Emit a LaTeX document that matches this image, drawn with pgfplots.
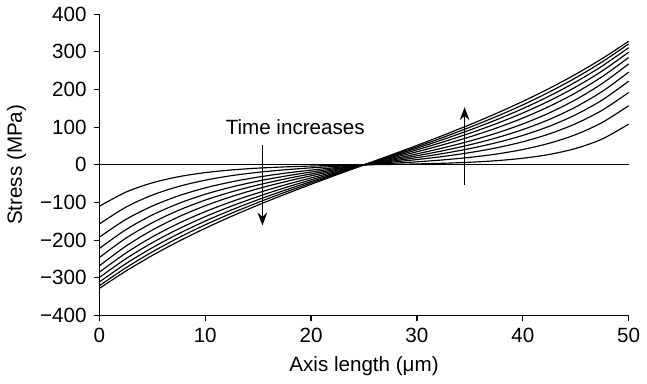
\documentclass[border=0pt]{standalone}
\usepackage{fontspec}
\setmainfont{Liberation Sans}
\usepackage{pgfplots}
\usepackage{pgfplotstable}
\pgfplotsset{compat=1.18}
\usetikzlibrary{arrows.meta}

\pgfplotstableread{
x c1 c2 c3 c4 c5 c6 c7 c8 c9 c10 c11
0 -110 -157 -192 -222 -246 -268 -285 -299 -311 -321 -328
2.5 -72.5 -112.4 -145.0 -172.1 -194.8 -215.9 -234.2 -249.3 -262.4 -273.4 -282.1
5 -47.8 -80.3 -109.3 -133.1 -153.7 -173.1 -191.3 -206.7 -220.0 -231.1 -240.6
7.5 -31.4 -57.3 -82.1 -102.4 -120.5 -137.8 -155.1 -169.8 -182.6 -193.3 -202.9
10 -20.6 -40.7 -61.2 -78.1 -93.6 -108.6 -124.2 -137.6 -149.3 -159.2 -168.4
12.5 -13.5 -28.6 -45.1 -58.8 -71.6 -84.1 -97.6 -109.3 -119.5 -128.3 -136.5
15 -8.7 -19.8 -32.5 -43.1 -53.3 -63.2 -74.3 -84.0 -92.5 -99.8 -106.7
17.5 -5.5 -13.2 -22.4 -30.2 -37.7 -45.2 -53.6 -61.0 -67.6 -73.2 -78.6
20 -3.2 -8.0 -14.0 -19.1 -24.1 -29.1 -34.7 -39.8 -44.2 -48.0 -51.7
22.5 -1.5 -3.8 -6.7 -9.3 -11.8 -14.2 -17.1 -19.6 -21.9 -23.8 -25.6
25 0 0 0 0 0 0 0 0 0 0 0
27.5 1.1 3.8 6.7 9.3 11.8 14.2 17.1 19.6 21.9 23.8 25.6
30 2.4 8.0 14.0 19.1 24.1 29.1 34.7 39.8 44.2 48.0 51.7
32.5 4.2 13.2 22.4 30.2 37.7 45.2 53.6 61.0 67.6 73.2 78.6
35 6.9 19.8 32.5 43.1 53.3 63.2 74.3 84.0 92.5 99.8 106.7
37.5 11.0 28.6 45.1 58.8 71.6 84.1 97.6 109.3 119.5 128.3 136.5
40 17.5 40.7 61.2 78.1 93.6 108.6 124.2 137.6 149.3 159.2 168.4
42.5 27.6 57.3 82.1 102.4 120.5 137.8 155.1 169.8 182.6 193.3 202.9
45 43.5 80.3 109.3 133.1 153.7 173.1 191.3 206.7 220.0 231.1 240.6
47.5 68.6 112.4 145.0 172.1 194.8 215.9 234.2 249.3 262.4 273.4 282.1
50 108 157 192 222 246 268 285 299 311 321 328
}\stressdata

\begin{document}
\fontsize{16}{19}\selectfont
\begin{tikzpicture}
\begin{axis}[
  scale only axis,
  width=411pt, height=234pt,
  xmin=0, xmax=50, ymin=-400, ymax=400,
  axis lines*=left,
  axis line style={line width=1pt},
  every tick/.style={black, line width=1pt},
  tick align=outside,
  major tick length=4.5pt,
  xtick={0,10,20,30,40,50},
  ytick={-400,-300,-200,-100,0,100,200,300,400},
  yticklabels={−400,−300,−200,−100,0,100,200,300,400},
  /pgf/number format/assume math mode=true,
  tick label style={font=\fontsize{16}{19}\selectfont},
  label style={font=\fontsize{16}{19}\selectfont},
  xlabel={Axis length (μm)},
  ylabel={Stress (MPa)},
  clip=false,
]
\addplot[black, line width=0.9pt] coordinates {(0,0) (50,0)};
\foreach \c in {c1,c2,c3,c4,c5,c6,c7,c8,c9,c10,c11}{
  \addplot[black, line width=0.9pt, smooth] table[x=x, y=\c] {\stressdata};
}
\draw[line width=0.9pt, -{Stealth[length=10pt,width=7.5pt]}] (axis cs:15.4,52) -- (axis cs:15.4,-161);
\draw[line width=0.9pt, -{Stealth[length=10pt,width=7.5pt]}] (axis cs:34.5,-54) -- (axis cs:34.5,153);
\node at (axis cs:18.5,101) {Time increases};
\end{axis}
\end{tikzpicture}
\end{document}
